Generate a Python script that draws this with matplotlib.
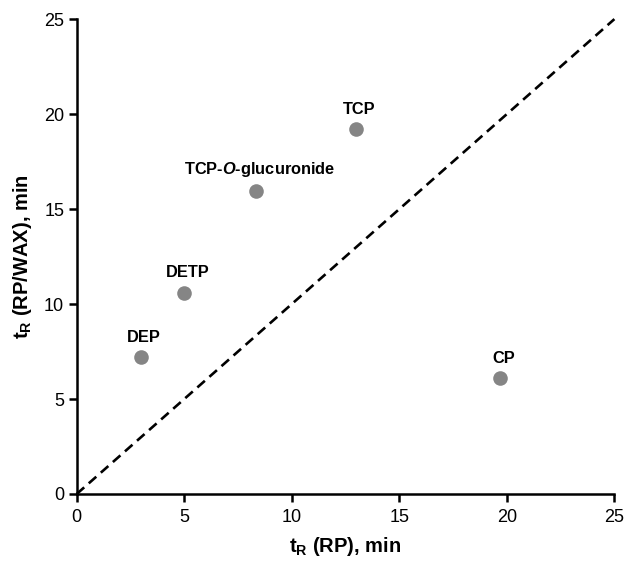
import matplotlib
matplotlib.use("Agg")
import matplotlib.pyplot as plt

# Retention times (min)
compounds = ["DEP", "DETP", "TCP-$\\mathbfit{O}$-glucuronide", "TCP", "CP"]
t_rp = [2.97, 5.01, 8.36, 12.97, 19.67]
t_rpwax = [7.19, 10.59, 15.95, 19.21, 6.1]
ticks = [0, 5, 10, 15, 20, 25]

plt.rcParams["font.family"] = ["Liberation Sans", "DejaVu Sans"]
plt.rcParams["mathtext.fontset"] = "custom"
plt.rcParams["mathtext.rm"] = "Liberation Sans"
plt.rcParams["mathtext.bf"] = "Liberation Sans:bold"
plt.rcParams["mathtext.bfit"] = "Liberation Sans:bold:italic"
plt.rcParams["mathtext.it"] = "Liberation Sans:italic"

fig = plt.figure(figsize=(6.24, 5.62), dpi=100)
ax = fig.add_axes([0.1229, 0.121, 0.8617, 0.845])

# 1:1 reference line
ax.plot([0, 25], [0, 25], color="black", lw=1.9, ls=(0, (3.8, 2.3)),
        clip_on=False, zorder=2)

ax.plot(t_rp, t_rpwax, "o", color="#858585", markersize=10.5,
        markeredgewidth=0, zorder=3)

for name, x, y in zip(compounds, t_rp, t_rpwax):
    ax.annotate(name, (x, y), xytext=(2.5, 9), textcoords="offset points",
                ha="center", va="bottom", fontsize=11.8, fontweight="bold")

ax.set_xlim(0, 25)
ax.set_ylim(0, 25)
ax.set_xticks(ticks)
ax.set_yticks(ticks)
ax.tick_params(length=6, width=1.8, labelsize=13, pad=3)
ax.tick_params(axis="x", pad=5)

for side in ["top", "right"]:
    ax.spines[side].set_visible(False)
for side in ["left", "bottom"]:
    ax.spines[side].set_linewidth(1.8)

ax.set_xlabel("$\\mathbf{t_R}$ (RP), min", fontsize=14.5, fontweight="bold",
              labelpad=6)
ax.set_ylabel("$\\mathbf{t_R}$ (RP/WAX), min", fontsize=14.5, fontweight="bold",
              labelpad=7)

fig.savefig("out.png", dpi=100)
